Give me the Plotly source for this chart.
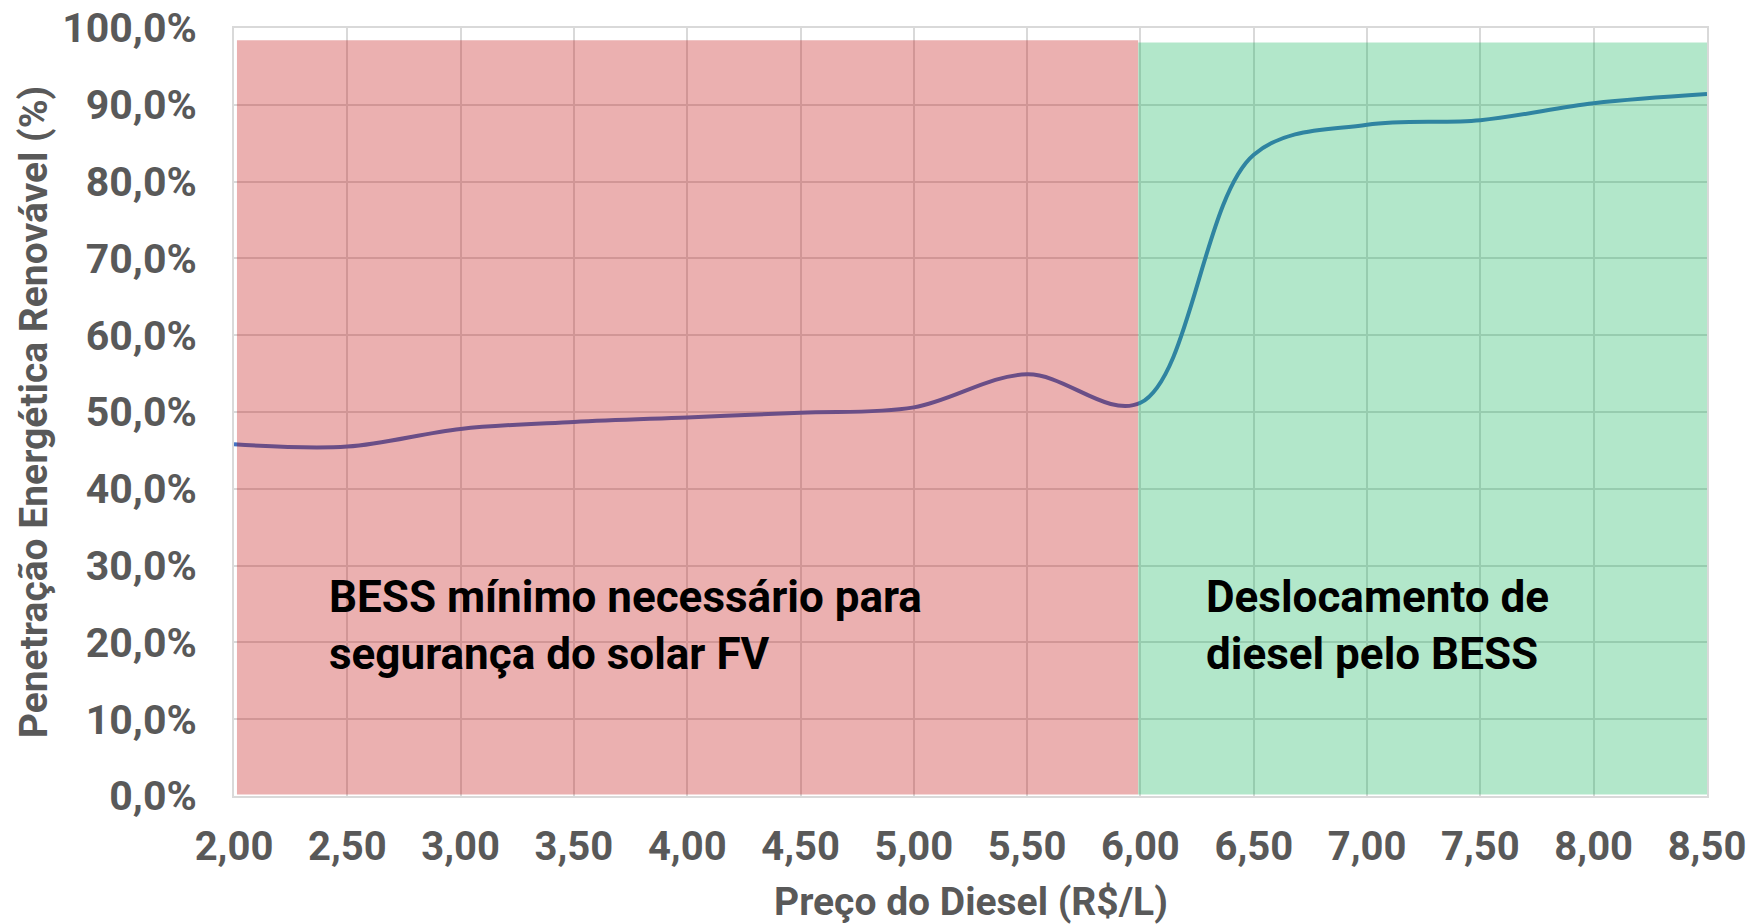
import plotly.graph_objects as go

# Data
diesel_price = [2.0, 2.5, 3.0, 3.5, 4.0, 4.5, 5.0, 5.5, 6.0, 6.5, 7.0, 7.5, 8.0, 8.5]
renewable_share = [0.458, 0.455, 0.478, 0.487, 0.493, 0.499, 0.506, 0.549, 0.512, 0.835, 0.874, 0.880, 0.902, 0.914]

# Shaded regions: [x0, x1, y0, y1]
region_min_bess = [2.013, 5.99, 0.002, 0.984]
region_displace = [5.99, 8.5, 0.002, 0.981]
region_labels = ["BESS mínimo necessário para<br>segurança do solar FV",
                 "Deslocamento de<br>diesel pelo BESS"]
label_x = [2.41, 6.28]
label_y = [0.222, 0.222]

x_ticks = [2.0, 2.5, 3.0, 3.5, 4.0, 4.5, 5.0, 5.5, 6.0, 6.5, 7.0, 7.5, 8.0, 8.5]
y_ticks = [0.0, 0.1, 0.2, 0.3, 0.4, 0.5, 0.6, 0.7, 0.8, 0.9, 1.0]
x_title = "Preço do Diesel (R$/L)"
y_title = "Penetração Energética Renovável (%)"

FONT = "Roboto"
GRAY = "#595959"
GRID = "#D9D9D9"

fig = go.Figure()
fig.add_trace(go.Scatter(
    x=diesel_price, y=renewable_share, mode="lines",
    line=dict(color="#4472C4", width=4, shape="spline", smoothing=1.0),
    hoverinfo="skip", showlegend=False,
))

fig.add_shape(type="rect", xref="x", yref="y",
              x0=region_min_bess[0], x1=region_min_bess[1],
              y0=region_min_bess[2], y1=region_min_bess[3],
              fillcolor="rgba(192,0,0,0.31)", line=dict(width=0), layer="above")
fig.add_shape(type="rect", xref="x", yref="y",
              x0=region_displace[0], x1=region_displace[1],
              y0=region_displace[2], y1=region_displace[3],
              fillcolor="rgba(0,176,80,0.30)", line=dict(width=0), layer="above")

for txt, lx, ly in zip(region_labels, label_x, label_y):
    fig.add_annotation(x=lx, y=ly, xref="x", yref="y", text=f"<b>{txt}</b>",
                       showarrow=False, xanchor="left", yanchor="middle", align="left",
                       font=dict(family=FONT, size=44, color="#000000"))

# x-axis title placed below the tick labels
fig.add_annotation(x=0.5, y=0, xref="paper", yref="paper", text=f"<b>{x_title}</b>",
                   showarrow=False, xanchor="center", yanchor="middle", yshift=-106,
                   font=dict(family=FONT, size=39, color=GRAY))

fig.update_layout(
    width=1762, height=924,
    margin=dict(l=234, r=55, t=28, b=128),
    paper_bgcolor="white", plot_bgcolor="white",
    separators=",.",
    font=dict(family=FONT, color=GRAY),
)
fig.update_xaxes(
    range=[2.0, 8.5], tickvals=x_ticks, tickformat=".2f", automargin=False,
    showgrid=True, gridcolor=GRID, gridwidth=1.5,
    showline=True, linecolor=GRID, linewidth=2, mirror=True,
    zeroline=False, ticks="", ticklabelstandoff=14, ticklabeloverflow="allow",
    tickfont=dict(family=FONT, size=40, color=GRAY, weight="bold"),
)
fig.update_yaxes(
    range=[0.0, 1.0], tickvals=y_ticks, tickformat=".1%", automargin=False,
    showgrid=True, gridcolor=GRID, gridwidth=1.5,
    showline=True, linecolor=GRID, linewidth=2, mirror=True,
    zeroline=False, ticks="", ticklabelstandoff=27, ticklabeloverflow="allow",
    tickfont=dict(family=FONT, size=41, color=GRAY, weight="bold"),
    title=dict(text=f"<b>{y_title}</b>", standoff=3,
               font=dict(family=FONT, size=39, color=GRAY)),
)

fig.write_html("out.html", config={"displayModeBar": False},
               post_script="document.body.style.margin='0';")
